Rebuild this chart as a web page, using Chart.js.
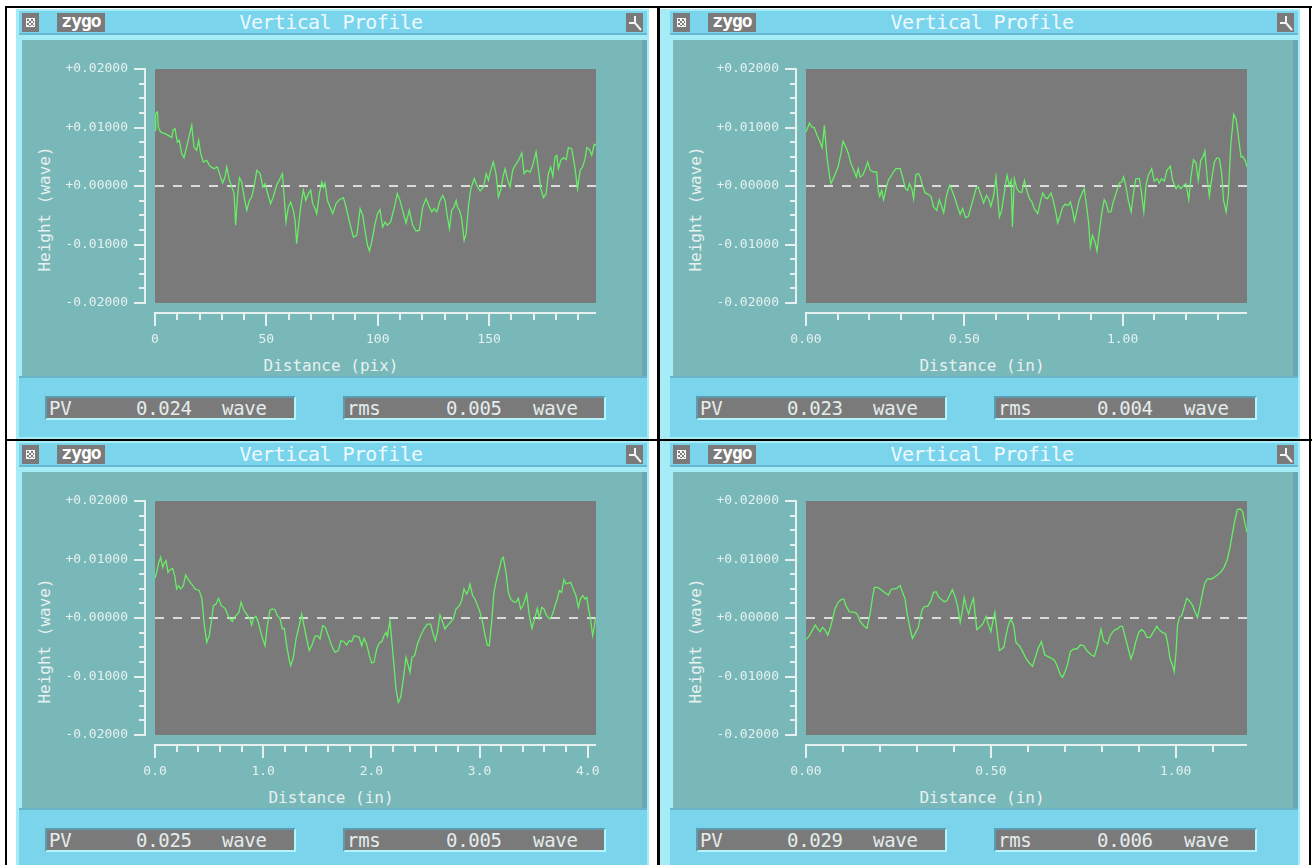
<!DOCTYPE html>
<html>
<head>
<meta charset="utf-8">
<script src="https://cdn.jsdelivr.net/npm/chart.js@4/dist/chart.umd.min.js"></script>
<style>
html,body{margin:0;padding:0}
body{width:1316px;height:865px;background:#fff;position:relative;overflow:hidden;font-family:'DejaVu Sans Mono',monospace}
.rule{position:absolute;background:#000}
.panel{position:absolute;width:660px;height:434px}
.panel>div,.panel>canvas{position:absolute}
.win{top:9px;width:auto;right:11px;height:430px;background:#a6ecf6}
.tbar{left:19px;top:11px;width:628px;height:22px;background:#7ad4ec}
.tsep{left:19px;top:33px;width:628px;height:2px;background:#66b9d0}
.btn{top:13px;width:17px;height:19px;background:#7a7a7a}
.closeglyph{position:absolute;left:4px;top:5px;width:7px;height:7px;border:1px solid #f4f4f4;
  background:repeating-conic-gradient(#f4f4f4 0 25%,#7a7a7a 0 50%) 0 0/4px 4px}
.logo{left:57px;top:13px;width:48px;height:19px;background:#7a7a7a;color:#fff;font:bold 18px 'DejaVu Sans Mono';
  line-height:16px;text-align:center;letter-spacing:-1px}
.title{left:131px;top:11px;width:400px;height:22px;line-height:22px;text-align:center;color:#eefaff;
  font-size:20px;letter-spacing:-0.6px}
.teal{left:22px;top:40px;width:620px;height:336px;background:#78b8b8}
.tealedge{left:642px;top:40px;width:5px;height:337px;background:#6aa6b4}
.bsep{left:19px;top:376px;width:628px;height:2px;background:#68b4c8}
.bbar{left:19px;top:378px;width:628px;height:59px;background:#7ad4ec}
.ytitle{left:44px;top:209px;transform:translate(-50%,-50%) rotate(-90deg);white-space:nowrap;color:#e8f0f0;font-size:16px}
.xtitle{left:131px;top:355px;width:400px;text-align:center;color:#e8f0f0;font-size:16px;line-height:22px}
.box{top:396px;height:24px;box-sizing:border-box;background:#7a7a7a;
  border-top:2px solid #5c9cb0;border-left:2px solid #5c9cb0;border-bottom:2px solid #b4f4fc;border-right:2px solid #b4f4fc}
.rd{top:396px;height:24px;line-height:24px;color:#e4ecec;font-size:19px;letter-spacing:-0.3px;white-space:nowrap}
</style>
</head>
<body>
<div class="rule" style="left:5px;top:6px;width:1307px;height:2px"></div>
<div class="rule" style="left:5px;top:439px;width:1307px;height:2px"></div>
<div class="rule" style="left:5px;top:6px;width:2px;height:859px"></div>
<div class="rule" style="left:657px;top:6px;width:3px;height:859px"></div>
<div class="rule" style="left:1309px;top:6px;width:2px;height:859px"></div>
<script>
// ---- profile data: distance along the line and surface height (wave) ----
const p1Distance = [0,0.3,1.1,1.5,2.5,4.5,6.7,7.5,8.2,9.0,
  10.0,10.9,12.0,13.0,14.2,15.4,16.5,17.5,18.7,19.6,
  20.5,21.7,23.2,24.7,26.5,28.0,29.2,30.4,31.4,32.2,
  33.4,34.4,35.5,36.2,37.0,37.9,38.9,40.0,41.2,42.4,
  43.4,44.5,45.7,47.2,48.4,49.4,50.4,51.9,53.1,54.6,
  56.1,57.2,57.9,58.8,59.9,60.9,62.1,62.9,63.6,64.7,
  65.6,66.6,67.7,68.9,69.9,70.8,71.9,72.6,73.8,74.9,
  75.6,76.3,77.4,78.6,79.8,81.3,82.8,84.6,85.8,86.8,
  87.9,89.1,90.6,92.1,93.3,94.5,95.4,96.3,97.3,98.8,
  99.9,101.0,102.2,103.3,104.3,105.8,107.3,108.8,110.0,111.2,
  112.7,114.2,115.7,117.2,118.7,120.2,121.7,123.2,124.3,125.3,
  126.5,128.0,129.2,130.2,131.3,132.2,133.2,134.3,135.2,135.8,
  136.7,137.7,138.8,139.7,140.7,141.8,143.3,144.5,146.0,147.5,
  148.7,149.7,150.7,151.9,153.1,154.2,155.2,156.4,157.2,158.2,
  159.4,160.6,161.7,163.2,164.7,165.7,166.9,168.4,169.6,171.1,
  172.2,173.2,174.4,175.6,176.6,177.7,178.6,179.6,180.4,181.1,
  182.2,183.4,184.6,185.6,187.1,188.6,189.7,190.9,192.1,193.1,
  193.9,195.1,196.1,197.2,198.0];
const p1Height = [0.00952,0.01236,0.01265,0.01009,0.00923,0.00895,0.00849,0.00826,0.00963,0.0098,
  0.00752,0.00781,0.00553,0.00484,0.00667,0.00866,0.01037,0.00667,0.0061,0.00781,
  0.00553,0.0041,0.00439,0.00336,0.00296,0.00325,0.00182,0.00051,0.00154,0.00325,
  0.00097,-0.00006,-0.00131,-0.00672,-0.00188,0.00142,0.00068,-0.00188,-0.00416,-0.00245,
  -0.00188,-0.00017,0.00268,0.00211,-0.00017,0.0004,-0.00103,-0.00302,-0.00188,0.00011,
  0.00125,0.00211,-0.00131,-0.00615,-0.00359,-0.00274,-0.00416,-0.00587,-0.00986,-0.00587,
  -0.00302,-0.00074,-0.00245,-0.00131,-0.00074,-0.00302,-0.00387,-0.00473,-0.00131,0.00068,
  -0.00017,0.00051,-0.00245,-0.00359,-0.00473,-0.00302,-0.00234,-0.00199,-0.00359,-0.0053,
  -0.00701,-0.00872,-0.00843,-0.00387,-0.00501,-0.00815,-0.01014,-0.01111,-0.00957,-0.00644,
  -0.00473,-0.00405,-0.00701,-0.00615,-0.00672,-0.00615,-0.00387,-0.00131,-0.00245,-0.00416,
  -0.00632,-0.00416,-0.00672,-0.00769,-0.00758,-0.00359,-0.00217,-0.00359,-0.00444,-0.00387,
  -0.00444,-0.00245,-0.0016,-0.00245,-0.0053,-0.00729,-0.00416,-0.00359,-0.00245,-0.00359,
  -0.00416,-0.00558,-0.00929,-0.00815,-0.00359,-0.00046,0.00125,0.00011,-0.00085,-0.00017,
  0.00211,0.00097,0.00268,0.0041,0.00211,-0.00188,-0.00074,0.00182,0.00296,0.00125,
  -0.00017,0.00268,0.00353,0.00439,0.00564,0.00211,0.00268,0.00239,0.00353,0.00581,
  0.00268,-0.00046,-0.00199,-0.00131,0.00211,0.00325,0.00165,0.00496,0.00524,0.00296,
  0.00439,0.00484,0.0045,0.00655,0.00638,0.00296,-0.00046,0.00268,0.00336,0.00467,
  0.00655,0.00621,0.00524,0.00712,0.00695];

const p2Distance = [0.000,0.011,0.018,0.026,0.035,0.042,0.051,0.058,0.066,0.074,
  0.079,0.086,0.095,0.102,0.111,0.117,0.126,0.134,0.142,0.153,
  0.159,0.165,0.171,0.179,0.186,0.195,0.203,0.214,0.223,0.228,
  0.233,0.239,0.245,0.253,0.260,0.274,0.284,0.298,0.305,0.314,
  0.321,0.327,0.334,0.340,0.347,0.355,0.361,0.368,0.376,0.386,
  0.395,0.403,0.413,0.421,0.429,0.435,0.442,0.447,0.454,0.461,
  0.469,0.479,0.487,0.495,0.504,0.513,0.521,0.530,0.537,0.544,
  0.553,0.561,0.570,0.577,0.584,0.593,0.600,0.605,0.611,0.618,
  0.626,0.635,0.642,0.648,0.652,0.658,0.666,0.674,0.682,0.690,
  0.698,0.706,0.714,0.721,0.732,0.742,0.748,0.756,0.763,0.774,
  0.781,0.790,0.795,0.803,0.811,0.818,0.829,0.835,0.842,0.848,
  0.856,0.863,0.871,0.879,0.888,0.893,0.898,0.905,0.913,0.919,
  0.927,0.934,0.942,0.949,0.955,0.963,0.972,0.979,0.990,0.997,
  1.003,1.011,1.018,1.027,1.035,1.042,1.053,1.060,1.067,1.074,
  1.081,1.092,1.100,1.109,1.116,1.123,1.132,1.140,1.151,1.158,
  1.169,1.176,1.184,1.193,1.200,1.209,1.216,1.224,1.232,1.239,
  1.247,1.254,1.260,1.267,1.274,1.281,1.290,1.298,1.306,1.313,
  1.319,1.327,1.334,1.342,1.351,1.359,1.366,1.374,1.379,1.387,1.393];
const p2Height = [0.00923,0.01077,0.01009,0.00997,0.00866,0.00781,0.00655,0.01037,0.00496,0.00182,
  0.0004,0.00125,0.00239,0.00336,0.00581,0.00764,0.00667,0.00553,0.00382,0.00239,
  0.00154,0.00296,0.00154,0.00182,0.00268,0.0041,0.00268,0.00239,0.00239,-0.00074,
  -0.00177,-0.00074,-0.00234,-0.00046,0.00097,0.00222,0.00296,0.00296,0.00154,-0.00046,
  -0.00074,0.0004,-0.00046,-0.00217,0.00194,0.00211,0.00154,0.00011,-0.00114,-0.00142,
  -0.00177,-0.00359,-0.00416,-0.00234,-0.00359,-0.00456,-0.00217,-0.00103,0.00011,-0.00074,
  -0.00188,-0.00359,-0.00484,-0.00387,-0.00541,-0.00519,-0.00359,-0.00188,-0.00046,-0.00017,
  -0.0016,-0.00291,-0.0016,-0.00217,-0.00348,-0.0016,0.00154,-0.0016,-0.0053,-0.00416,
  -0.00131,0.00182,0.00011,0.00097,-0.00701,0.00125,-0.00046,-0.00103,-0.00103,0.00097,
  -0.00085,-0.00217,-0.00274,-0.00387,-0.00473,-0.00234,-0.0012,-0.00199,-0.00217,-0.0012,
  -0.00245,-0.00473,-0.00632,-0.00501,-0.00359,-0.00313,-0.0033,-0.00274,-0.00416,-0.00598,
  -0.00416,-0.00245,-0.00131,-0.00046,-0.00416,-0.00644,-0.01043,-0.00843,-0.00957,-0.01111,
  -0.00758,-0.00473,-0.00234,-0.00302,-0.00444,-0.00444,-0.00245,-0.00131,0.00051,0.00068,
  0.00154,-0.00017,-0.00245,-0.00444,-0.00103,0.00125,0.00125,-0.00131,-0.00444,0.00011,
  0.00182,0.00296,0.00085,0.00125,0.00051,0.00125,0.00085,0.00268,0.00336,0.00097,
  -0.00046,0.00011,-0.00046,0.00011,0.0004,-0.00234,0.00154,0.0045,0.00393,0.00097,
  0.00439,0.00496,0.00598,0.00154,-0.00177,0.00097,0.0041,0.00484,0.00467,0.00211,
  -0.00245,-0.00444,-0.0016,0.00724,0.01225,0.01134,0.00838,0.00496,0.00507,0.00439,0.00325];

const p3Distance = [0.000,0.015,0.031,0.052,0.071,0.083,0.102,0.120,0.139,0.163,
  0.182,0.200,0.219,0.237,0.262,0.283,0.308,0.339,0.370,0.410,
  0.434,0.453,0.478,0.502,0.524,0.539,0.564,0.588,0.613,0.647,
  0.669,0.693,0.715,0.733,0.755,0.776,0.795,0.823,0.847,0.878,
  0.893,0.909,0.933,0.955,0.986,1.017,1.038,1.063,1.087,1.109,
  1.131,1.155,1.177,1.195,1.217,1.242,1.254,1.278,1.303,1.325,
  1.356,1.377,1.402,1.426,1.448,1.479,1.503,1.525,1.550,1.574,
  1.602,1.633,1.664,1.694,1.719,1.747,1.771,1.796,1.818,1.839,
  1.864,1.888,1.910,1.932,1.956,1.981,2.002,2.024,2.049,2.073,
  2.095,2.116,2.135,2.147,2.172,2.187,2.209,2.227,2.249,2.271,
  2.295,2.320,2.341,2.357,2.375,2.400,2.425,2.455,2.486,2.517,
  2.548,2.566,2.591,2.609,2.634,2.659,2.680,2.702,2.726,2.757,
  2.782,2.813,2.834,2.856,2.880,2.896,2.911,2.936,2.957,2.979,
  3.004,3.028,3.050,3.071,3.090,3.111,3.133,3.158,3.182,3.204,
  3.219,3.244,3.266,3.287,3.312,3.336,3.358,3.380,3.404,3.435,
  3.460,3.484,3.512,3.534,3.552,3.574,3.595,3.620,3.651,3.675,
  3.697,3.718,3.737,3.758,3.780,3.799,3.820,3.842,3.866,3.891,
  3.913,3.934,3.953,3.974,3.990,4.005,4.027,4.045,4.057,4.070,4.076];
const p3Height = [0.00678,0.00781,0.00923,0.01037,0.00866,0.00923,0.0098,0.00781,0.00826,0.00849,
  0.00724,0.00496,0.00553,0.00496,0.00553,0.00735,0.00655,0.00581,0.00496,0.00467,
  0.00325,-0.00074,-0.00416,-0.00302,-0.00017,0.00211,0.00239,0.00336,0.00211,0.00165,
  0.00068,-0.00017,-0.00063,0.00011,0.00051,0.00097,0.00268,0.00125,0.00068,-0.00017,
  -0.0012,-0.00006,0.00028,-0.00074,-0.00302,-0.00473,-0.00131,0.00137,0.00154,0.00142,
  0.0004,-0.00006,-0.00188,-0.00177,-0.00473,-0.00729,-0.00815,-0.00689,-0.00359,-0.00188,
  0.00068,-0.00131,-0.00359,-0.00558,-0.00473,-0.00313,-0.00302,-0.00359,-0.00131,-0.0016,
  -0.00302,-0.00473,-0.00587,-0.00558,-0.00387,-0.00405,-0.00462,-0.00387,-0.00405,-0.00302,
  -0.00313,-0.0033,-0.00473,-0.00348,-0.00444,-0.00644,-0.00769,-0.00758,-0.0053,-0.00427,
  -0.00405,-0.00302,-0.00245,-0.00313,-0.00046,-0.00359,-0.00815,-0.01214,-0.01442,-0.01356,
  -0.01043,-0.00672,-0.00815,-0.00929,-0.00672,-0.00644,-0.00444,-0.00302,-0.00188,-0.00103,
  -0.00103,-0.00245,-0.00387,-0.00245,0.00051,-0.00074,-0.00188,-0.00131,-0.00085,-0.00017,
  0.00154,0.00211,0.00296,0.00496,0.0041,0.00467,0.00581,0.00382,0.00325,0.00222,
  0.00097,-0.00074,-0.00291,-0.00462,-0.00473,-0.00074,0.00439,0.00667,0.00838,0.01009,
  0.01037,0.00781,0.00439,0.00325,0.00279,0.00268,0.00336,0.00154,0.00222,0.0041,
  0.0004,-0.00177,0.00011,0.00165,-0.00006,0.00182,0.00154,0.0004,-0.00017,0.00068,
  0.00211,0.00325,0.00467,0.00439,0.00655,0.00581,0.00598,0.0061,0.00496,0.00382,
  0.00182,0.00336,0.00382,0.00325,0.00353,0.00182,-0.00046,-0.00302,-0.00188,-0.00017,0.00011];

const p4Distance = [0.000,0.009,0.018,0.025,0.032,0.038,0.045,0.051,0.059,0.066,
  0.072,0.078,0.087,0.095,0.102,0.108,0.117,0.131,0.138,0.147,
  0.156,0.165,0.174,0.180,0.185,0.194,0.203,0.212,0.223,0.230,
  0.237,0.246,0.250,0.255,0.261,0.268,0.273,0.279,0.288,0.297,
  0.304,0.309,0.315,0.322,0.329,0.338,0.345,0.352,0.358,0.365,
  0.374,0.381,0.389,0.396,0.403,0.410,0.417,0.423,0.428,0.434,
  0.440,0.446,0.453,0.457,0.462,0.469,0.478,0.487,0.493,0.500,
  0.507,0.511,0.516,0.523,0.529,0.535,0.541,0.547,0.554,0.562,
  0.568,0.577,0.586,0.595,0.604,0.613,0.619,0.628,0.637,0.646,
  0.655,0.664,0.673,0.681,0.688,0.694,0.700,0.708,0.715,0.724,
  0.733,0.742,0.751,0.757,0.764,0.772,0.780,0.789,0.798,0.805,
  0.816,0.823,0.829,0.836,0.843,0.850,0.856,0.865,0.872,0.879,
  0.886,0.892,0.901,0.908,0.915,0.922,0.931,0.942,0.949,0.955,
  0.964,0.973,0.978,0.985,0.992,0.996,1.001,1.005,1.010,1.016,
  1.023,1.030,1.037,1.046,1.052,1.059,1.066,1.073,1.079,1.086,
  1.097,1.104,1.113,1.122,1.131,1.140,1.147,1.154,1.160,1.167,
  1.175,1.181,1.187,1.193];
const p4Height = [-0.0037,-0.00302,-0.00199,-0.0012,-0.00188,-0.00234,-0.0016,-0.00199,-0.00291,-0.0016,
  -0.00017,0.00154,0.00268,0.00313,0.00325,0.00211,0.00108,0.00097,0.00068,-0.00063,
  -0.00131,-0.00177,0.00097,0.00353,0.00524,0.00524,0.00484,0.00439,0.00393,0.00484,
  0.00496,0.00507,0.00536,0.00553,0.00439,0.00325,0.00097,-0.00103,-0.00348,-0.00245,
  -0.0016,0.00011,0.00154,0.00199,0.00199,0.00296,0.00439,0.0045,0.0037,0.00325,
  0.00279,0.00296,0.00393,0.00484,0.0037,0.00211,-0.00074,0.00125,0.00353,0.00182,
  0.00068,0.00211,0.00336,0.00097,-0.00199,-0.0016,-0.00103,0.00028,-0.00103,-0.00234,
  -0.00017,0.00097,-0.00188,-0.00558,-0.0053,-0.00501,-0.00302,-0.00131,-0.00017,-0.00131,
  -0.00416,-0.00473,-0.00575,-0.00689,-0.00769,-0.00826,-0.00701,-0.00519,-0.00405,-0.00632,
  -0.00661,-0.00689,-0.00729,-0.00843,-0.00974,-0.01014,-0.00929,-0.00786,-0.00575,-0.0053,
  -0.0053,-0.00462,-0.00473,-0.0053,-0.00587,-0.00632,-0.00655,-0.00462,-0.00188,-0.00387,
  -0.00444,-0.00302,-0.00245,-0.00199,-0.00188,-0.00142,-0.00142,-0.00359,-0.0053,-0.00701,
  -0.00575,-0.00405,-0.00234,-0.00199,-0.00234,-0.0033,-0.0033,-0.00217,-0.00142,-0.00199,
  -0.00245,-0.00274,-0.00416,-0.00701,-0.00815,-0.00917,-0.00587,-0.00131,0.00011,0.0004,
  0.00182,0.00336,0.00296,0.00211,0.00108,0.00011,0.00211,0.00439,0.00598,0.00667,
  0.00667,0.00695,0.00735,0.00781,0.00866,0.01009,0.01208,0.01464,0.01664,0.01852,
  0.01863,0.01818,0.01635,0.01464];

// ---- axes: ranges, labelled ticks and minor tick spacing ----
const yRange = [-0.02, 0.02];
const yTicks = [-0.02, -0.01, 0, 0.01, 0.02];
const yMinorStep = 0.0025;
const p1XRange = [0, 198],   p1XTicks = [0, 50, 100, 150],      p1XMinor = 10;
const p2XRange = [0, 1.393], p2XTicks = [0, 0.5, 1.0],          p2XMinor = 0.1;
const p3XRange = [0, 4.076], p3XTicks = [0, 1, 2, 3, 4],        p3XMinor = 0.2;
const p4XRange = [0, 1.193], p4XTicks = [0, 0.5, 1.0],          p4XMinor = 0.1;
const xDecimals = [0, 2, 1, 2];

// ---- window texts ----
const windowTitle = 'Vertical Profile';
const yTitle = 'Height (wave)';
const xTitles = ['Distance (pix)', 'Distance (in)', 'Distance (in)', 'Distance (in)'];
const pvValues = ['0.024', '0.023', '0.025', '0.029'];
const rmsValues = ['0.005', '0.004', '0.005', '0.006'];
const unitText = 'wave';

const distances = [p1Distance, p2Distance, p3Distance, p4Distance];
const heights = [p1Height, p2Height, p3Height, p4Height];
const xRanges = [p1XRange, p2XRange, p3XRange, p4XRange];
const xTickSets = [p1XTicks, p2XTicks, p3XTicks, p4XTicks];
const xMinorSteps = [p1XMinor, p2XMinor, p3XMinor, p4XMinor];

const INK = '#e6f0f0';
const MONO = "'DejaVu Sans Mono', monospace";

// gray plotting field plus the detached axis rules and their tick marks
const profileFrame = {
  id: 'profileFrame',
  beforeDraw(chart) {
    const {ctx, chartArea: a} = chart;
    ctx.save();
    ctx.fillStyle = '#7a7a7a';
    ctx.fillRect(a.left, a.top, a.right - a.left, a.bottom - a.top);
    ctx.restore();
  },
  afterDraw(chart, args, opts) {
    const {ctx, chartArea: a, scales} = chart;
    const xs = scales.x, ys = scales.y;
    ctx.save();
    ctx.strokeStyle = INK;
    ctx.lineWidth = 2;
    // vertical axis rule, 10px left of the field
    const ax = a.left - 10;
    ctx.beginPath();
    ctx.moveTo(ax, ys.getPixelForValue(yRange[1]) - 1);
    ctx.lineTo(ax, ys.getPixelForValue(yRange[0]) + 1);
    const nY = Math.round((yRange[1] - yRange[0]) / yMinorStep);
    for (let i = 0; i <= nY; i++) {
      const v = yRange[0] + i * yMinorStep;
      const major = yTicks.some(t => Math.abs(t - v) < 1e-9);
      const py = Math.round(ys.getPixelForValue(v));
      ctx.moveTo(ax - (major ? 11 : 6), py);
      ctx.lineTo(ax, py);
    }
    ctx.stroke();
    // horizontal axis rule, 10px under the field
    const ay = a.bottom + 10;
    ctx.beginPath();
    ctx.moveTo(xs.getPixelForValue(opts.range[0]) - 1, ay);
    ctx.lineTo(xs.getPixelForValue(opts.range[1]), ay);
    const nX = Math.floor(opts.range[1] / opts.minor + 1e-6);
    for (let i = 0; i <= nX; i++) {
      const v = i * opts.minor;
      const major = opts.ticks.some(t => Math.abs(t - v) < opts.minor * 1e-3);
      const px = Math.round(xs.getPixelForValue(v));
      ctx.moveTo(px, ay);
      ctx.lineTo(px, ay + (major ? 13 : 7));
    }
    ctx.stroke();
    ctx.restore();
  }
};

function signed(v) {
  const s = Math.abs(v).toFixed(5);
  return (v < -1e-12 ? '-' : '+') + s;
}

function buildPanel(i, ox, oy, winLeft) {
  const p = document.createElement('div');
  p.className = 'panel';
  p.style.left = ox + 'px';
  p.style.top = oy + 'px';
  p.innerHTML =
    '<div class="win" style="left:' + winLeft + 'px"></div>' +
    '<div class="tbar"></div><div class="tsep"></div>' +
    '<div class="btn" style="left:22px"><div class="closeglyph"></div></div>' +
    '<div class="logo">zygo</div>' +
    '<div class="title">' + windowTitle + '</div>' +
    '<div class="btn" style="left:626px"><svg width="17" height="19" viewBox="0 0 17 19">' +
      '<path d="M9 3 V10 H3 M9 10 L15 17" stroke="#f4f4f4" stroke-width="2" fill="none"/></svg></div>' +
    '<div class="teal"></div><div class="tealedge"></div>' +
    '<div class="bsep"></div><div class="bbar"></div>' +
    '<div class="ytitle">' + yTitle + '</div>' +
    '<div class="xtitle">' + xTitles[i] + '</div>' +
    '<div class="box" style="left:45px;width:251px"></div>' +
    '<div class="box" style="left:343px;width:263px"></div>' +
    '<div class="rd" style="left:49px">PV</div>' +
    '<div class="rd" style="left:136px">' + pvValues[i] + '</div>' +
    '<div class="rd" style="left:222px">' + unitText + '</div>' +
    '<div class="rd" style="left:347px">rms</div>' +
    '<div class="rd" style="left:446px">' + rmsValues[i] + '</div>' +
    '<div class="rd" style="left:533px">' + unitText + '</div>';
  const cv = document.createElement('canvas');
  cv.width = 620; cv.height = 336;
  cv.style.left = '22px'; cv.style.top = '40px';
  p.appendChild(cv);
  document.body.appendChild(p);

  const range = xRanges[i], ticks = xTickSets[i], dec = xDecimals[i];
  new Chart(cv, {
    type: 'line',
    data: {
      datasets: [
        {
          data: distances[i].map((d, k) => ({x: d, y: heights[i][k]})),
          borderColor: '#66ee66', borderWidth: 1.3, pointRadius: 0, tension: 0, fill: false
        },
        {
          data: [{x: range[0], y: 0}, {x: range[1], y: 0}],
          borderColor: '#dcdcdc', borderWidth: 2, borderDash: [9, 9], pointRadius: 0, fill: false
        }
      ]
    },
    options: {
      responsive: false, animation: false, devicePixelRatio: 1,
      layout: {padding: {left: 0, right: 46, top: 29, bottom: 0}},
      plugins: {
        legend: {display: false}, tooltip: {enabled: false},
        profileFrame: {range: range, ticks: ticks, minor: xMinorSteps[i]}
      },
      scales: {
        x: {
          type: 'linear', min: range[0], max: range[1],
          afterFit: s => { s.height = 73; s.paddingLeft = 0; s.paddingRight = 0; },
          afterBuildTicks: s => { s.ticks = ticks.map(v => ({value: v})); },
          grid: {display: false, drawTicks: false}, border: {display: false},
          ticks: {padding: 29, color: INK, font: {family: MONO, size: 13}, maxRotation: 0, autoSkip: false,
                  callback: v => Number(v).toFixed(dec)}
        },
        y: {
          type: 'linear', min: yRange[0], max: yRange[1],
          afterFit: s => { s.width = 133; s.paddingTop = 0; s.paddingBottom = 0; },
          afterBuildTicks: s => { s.ticks = yTicks.map(v => ({value: v})); },
          grid: {display: false, drawTicks: false}, border: {display: false},
          ticks: {padding: 27, color: INK, font: {family: MONO, size: 13}, autoSkip: false,
                  callback: v => signed(v)}
        }
      }
    },
    plugins: [profileFrame]
  });
}

buildPanel(0, 0, 0, 16);
buildPanel(1, 651, 0, 9);
buildPanel(2, 0, 432, 16);
buildPanel(3, 651, 432, 9);
</script>
</body>
</html>
